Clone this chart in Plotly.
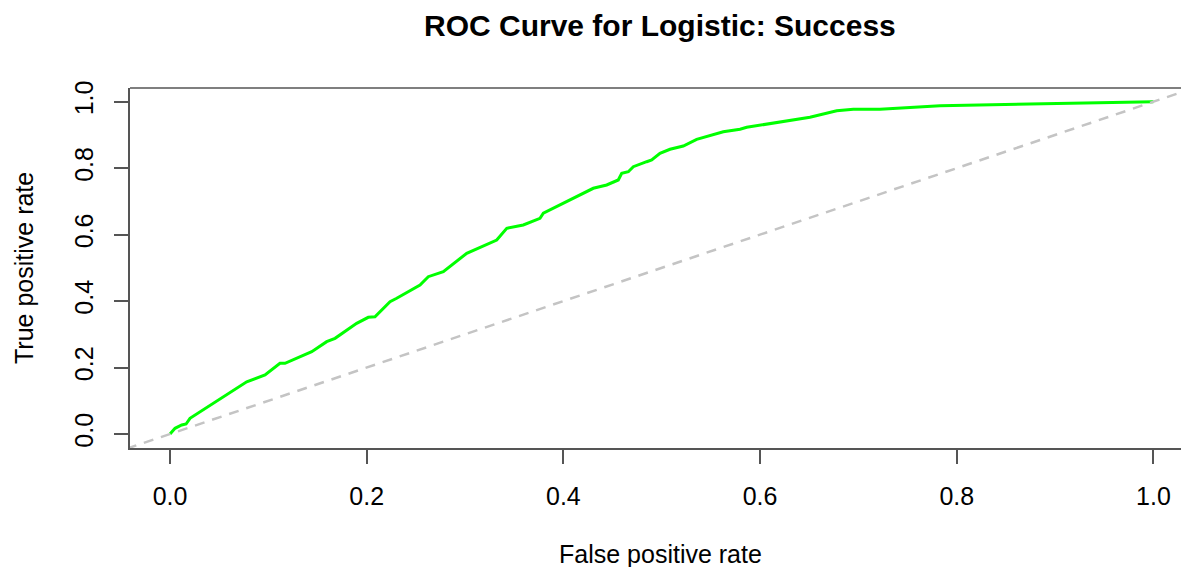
import plotly.graph_objects as go

# ROC curve points (false positive rate, true positive rate)
fpr = [0.0, 0.0051, 0.0119, 0.0163, 0.0203, 0.078, 0.0966, 0.1118, 0.1169, 0.1441,
       0.1593, 0.1678, 0.1898, 0.2016, 0.2084, 0.2153, 0.2237, 0.2305, 0.2542, 0.2626,
       0.2779, 0.3017, 0.3322, 0.3424, 0.3592, 0.3762, 0.3796, 0.4304, 0.444, 0.4558,
       0.4593, 0.466, 0.4711, 0.4847, 0.4898, 0.4982, 0.5084, 0.5219, 0.5355, 0.5626,
       0.5796, 0.5864, 0.6507, 0.6779, 0.6948, 0.7219, 0.7626, 0.783, 1.0]
tpr = [0.0, 0.0172, 0.0271, 0.0301, 0.0472, 0.157, 0.1776, 0.2128, 0.2128, 0.2477,
       0.2778, 0.288, 0.3331, 0.3512, 0.353, 0.3732, 0.3981, 0.4084, 0.4484, 0.4734,
       0.4884, 0.5438, 0.5838, 0.619, 0.629, 0.6491, 0.6642, 0.7394, 0.7493, 0.7644,
       0.7845, 0.7893, 0.8044, 0.8194, 0.8245, 0.8447, 0.8568, 0.8667, 0.8868, 0.9097,
       0.9169, 0.9229, 0.953, 0.9729, 0.9771, 0.977, 0.985, 0.988, 1.0]

# reference diagonal y = x
diag = [-0.2, 1.2]

tick_vals = [0.0, 0.2, 0.4, 0.6, 0.8, 1.0]
tick_text = ["0.0", "0.2", "0.4", "0.6", "0.8", "1.0"]

title_text = "ROC Curve for Logistic: Success"
x_title = "False positive rate"
y_title = "True positive rate"

FONT = "Liberation Sans, Arial, Helvetica, sans-serif"
AXIS_COLOR = "#555555"
FS = 25

fig = go.Figure()
fig.add_trace(go.Scatter(x=fpr, y=tpr, mode="lines",
                         line=dict(color="#00ff00", width=3),
                         showlegend=False, hoverinfo="skip"))
fig.add_trace(go.Scatter(x=diag, y=diag, mode="lines",
                         line=dict(color="#c4c4c4", width=2.5, dash="10px,8px"),
                         showlegend=False, hoverinfo="skip"))

fig.update_layout(
    width=1181, height=567,
    margin=dict(l=130, r=0, t=88, b=119),
    plot_bgcolor="white", paper_bgcolor="white",
    font=dict(family=FONT, size=FS, color="black"),
    showlegend=False,
    xaxis=dict(range=[-0.0407, 1.028], tickvals=tick_vals, ticktext=tick_text,
               ticks="outside", ticklen=14, tickwidth=1.5, tickcolor=AXIS_COLOR,
               showline=True, linecolor=AXIS_COLOR, linewidth=1.5,
               showgrid=False, zeroline=False, ticklabelstandoff=11,
               tickfont=dict(family=FONT, size=FS, color="black")),
    yaxis=dict(range=[-0.0421, 1.0412], tickvals=tick_vals, ticktext=tick_text,
               ticks="outside", ticklen=14, tickwidth=1.5, tickcolor=AXIS_COLOR,
               showline=True, linecolor=AXIS_COLOR, linewidth=1.5,
               showgrid=False, zeroline=False, tickangle=-90, ticklabelstandoff=11,
               tickfont=dict(family=FONT, size=FS, color="black")),
    shapes=[dict(type="line", xref="paper", yref="paper", x0=0, x1=1, y0=1, y1=1,
                 line=dict(color=AXIS_COLOR, width=1.5))],
    annotations=[
        dict(text="<b>" + title_text + "</b>", xref="paper", yref="paper",
             x=(660 - 130) / 1051, y=1 + (88 - 26) / 360, xanchor="center", yanchor="middle",
             showarrow=False, font=dict(family=FONT, size=30, color="black")),
        dict(text=x_title, xref="paper", yref="paper",
             x=(660 - 130) / 1051, y=-(554 - 448) / 360, xanchor="center", yanchor="middle",
             showarrow=False, font=dict(family=FONT, size=FS, color="black")),
        dict(text=y_title, xref="paper", yref="paper", textangle=-90,
             x=-(130 - 24) / 1051, y=0.5, xanchor="center", yanchor="middle",
             showarrow=False, font=dict(family=FONT, size=FS, color="black")),
    ],
)

fig.write_html("out.html")
